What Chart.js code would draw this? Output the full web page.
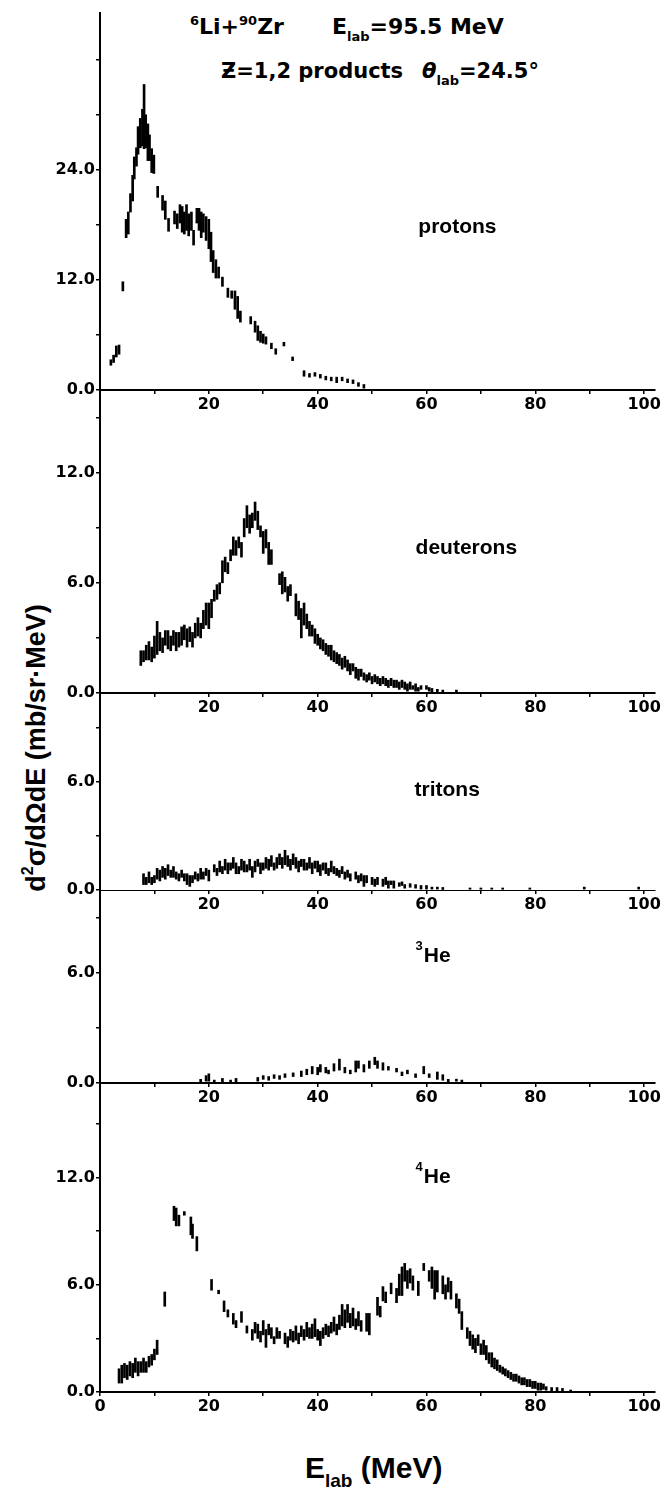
<!DOCTYPE html>
<html>
<head>
<meta charset="utf-8">
<script src="https://cdn.jsdelivr.net/npm/chart.js@4.4.1/dist/chart.umd.min.js"></script>
<style>
  body { margin: 0; background: #fff; }
  #page { position: relative; width: 671px; height: 1496px; overflow: hidden; background: #fff;
          font-family: 'Liberation Sans', Arial, sans-serif; font-weight: bold; color: #000; }
  #page canvas { position: absolute; left: 0; }
  .txt { position: absolute; white-space: nowrap; font-size: 21px; line-height: 1; }
  .txt sup { font-size: 13px; vertical-align: 9px; line-height: 0; }
  .txt sub { font-size: 14px; vertical-align: -7px; line-height: 0; }
  .title { font-family: 'DejaVu Sans', sans-serif; font-size: 22px; }
  .title sub { font-size: 13px; }
  #ytitle { left: 36px; top: 748px; font-size: 27px; transform: translate(-50%, -50%) rotate(-90deg); }
  #ytitle sup { font-size: 16px; vertical-align: 12px; }
  #xtitle { left: 305px; top: 1453px; font-size: 30px; }
  #xtitle sub { font-size: 19px; vertical-align: -9px; }
</style>
</head>
<body>
<div id="page">
  <div class="txt title" style="left:190px; top:16px"><sup>6</sup>Li+<sup>90</sup>Zr</div>
  <div class="txt title" style="left:332px; top:16px">E<sub>lab</sub>=95.5 MeV</div>
  <div class="txt title" style="left:221px; top:61px; font-size:21px">Ƶ=1,2 products</div>
  <div class="txt title" style="left:422px; top:61px; font-size:21px"><i>θ</i><sub>lab</sub>=24.5°</div>
  <div class="txt" id="ytitle">d<sup>2</sup>σ/dΩdE (mb/sr·MeV)</div>
  <div class="txt" id="xtitle">E<sub>lab</sub> (MeV)</div>
</div>
<script>
// spectra: E_lab (MeV), d2sigma/dOmega dE (mb/sr MeV), half error bar
const protonE   = [2.0, 2.5, 3.0, 3.5, 4.2, 4.8, 5.2, 5.6, 6.0, 6.3, 6.7, 7.0, 7.4, 7.8, 8.1, 8.4, 8.8, 9.1, 9.5, 9.9,
                   10.6, 11.5, 12.0, 12.6, 13.7, 14.2, 14.7, 15.1, 15.5, 15.9, 16.3, 16.8, 17.2, 17.8, 18.2, 18.6, 19.0, 19.5, 20.0, 20.4,
                   20.8, 21.3, 21.8, 22.5, 23.5, 24.2, 24.8, 25.3, 25.8, 27.7, 28.5, 29.0, 29.5, 30.0, 30.5, 31.5, 32.3, 33.8, 35.4, 37.5,
                   38.5, 39.5, 40.5, 41.5, 42.5, 43.5, 44.5, 45.5, 46.5, 47.5, 48.5];
const protonY   = [3.0, 3.4, 4.2, 4.4, 11.3, 17.6, 18.2, 20.4, 22.0, 24.2, 25.4, 27.2, 28.0, 28.6, 29.8, 28.2, 27.0, 26.4, 25.0, 24.6,
                   21.6, 20.4, 19.6, 18.0, 18.8, 18.4, 19.2, 18.6, 18.2, 18.8, 18.0, 18.4, 16.6, 19.0, 18.6, 18.0, 18.2, 17.6, 17.0, 15.6,
                   14.0, 13.2, 12.8, 11.8, 10.6, 10.4, 9.8, 9.0, 8.0, 7.6, 6.9, 6.2, 5.8, 5.6, 5.4, 4.8, 4.2, 5.0, 3.4, 1.8,
                   1.6, 1.7, 1.5, 1.3, 1.2, 1.1, 1.2, 1.0, 0.9, 0.6, 0.4];
const protonErr = [0.3, 0.4, 0.6, 0.5, 0.5, 1.0, 1.2, 1.0, 1.4, 1.2, 1.0, 1.5, 1.6, 2.0, 3.5, 1.8, 2.0, 1.4, 1.3, 1.0,
                   0.6, 0.8, 1.0, 0.7, 0.7, 0.8, 1.0, 1.4, 1.2, 1.4, 1.2, 1.0, 0.8, 0.8, 1.2, 1.4, 1.0, 1.3, 1.6, 1.6,
                   1.2, 1.0, 0.6, 0.5, 0.5, 0.4, 1.0, 1.2, 0.6, 0.4, 0.6, 0.8, 0.6, 0.5, 0.4, 0.3, 0.3, 0.2, 0.2, 0.3,
                   0.2, 0.2, 0.2, 0.2, 0.2, 0.3, 0.2, 0.2, 0.2, 0.2, 0.2];

const deuteronE   = [7.5, 8.0, 8.5, 9.0, 9.5, 10.0, 10.5, 11.0, 11.5, 12.0, 12.5, 13.0, 13.5, 14.0, 14.5, 15.0, 15.5, 16.0, 16.5, 17.0,
                     17.5, 18.0, 18.5, 19.0, 19.5, 20.0, 20.5, 21.0, 21.5, 22.0, 22.5, 23.0, 23.5, 24.0, 24.5, 25.0, 25.5, 26.0, 26.5, 27.0,
                     27.5, 28.0, 28.5, 29.0, 29.5, 30.0, 30.5, 31.0, 31.5, 33.0, 33.5, 34.0, 34.5, 35.0, 36.0, 36.5, 37.0, 37.5, 38.0, 38.5,
                     39.0, 39.5, 40.0, 40.5, 41.0, 41.5, 42.0, 42.5, 43.0, 43.5, 44.0, 44.5, 45.0, 45.5, 46.0, 46.5, 47.0, 47.5, 48.0, 48.5,
                     49.0, 49.5, 50.0, 50.5, 51.0, 51.5, 52.0, 52.5, 53.0, 53.5, 54.0, 54.5, 55.0, 55.5, 56.0, 56.5, 57.0, 57.5, 58.0, 58.5,
                     59.0, 60.0, 60.5, 61.0, 62.0, 63.0, 65.5];
const deuteronY   = [1.9, 2.0, 2.2, 2.3, 2.1, 2.5, 3.0, 2.8, 2.6, 3.0, 2.9, 2.7, 3.0, 2.8, 2.9, 3.1, 3.3, 3.0, 3.2, 2.9,
                     3.4, 3.6, 3.4, 4.0, 4.3, 4.2, 4.6, 5.3, 5.5, 5.7, 6.6, 7.0, 6.8, 7.5, 8.0, 7.9, 8.2, 7.8, 9.0, 9.6,
                     9.2, 9.4, 9.9, 9.4, 8.8, 8.2, 8.4, 7.6, 7.4, 6.2, 6.0, 5.9, 5.4, 5.6, 4.8, 4.5, 3.8, 4.3, 3.9, 3.5,
                     3.4, 3.1, 2.9, 2.7, 2.6, 2.4, 2.3, 2.2, 2.0, 1.9, 1.8, 1.6, 1.7, 1.5, 1.3, 1.4, 1.1, 1.0, 1.1, 0.9,
                     0.8, 0.9, 0.7, 0.8, 0.7, 0.6, 0.7, 0.6, 0.5, 0.6, 0.5, 0.5, 0.4, 0.5, 0.4, 0.3, 0.4, 0.3, 0.3, 0.2,
                     0.3, 0.3, 0.2, 0.15, 0.1, 0.1, 0.1];
const deuteronErr = [0.4, 0.3, 0.4, 0.5, 0.4, 0.6, 0.9, 0.5, 0.4, 0.4, 0.5, 0.4, 0.4, 0.5, 0.4, 0.5, 0.4, 0.5, 0.4, 0.4,
                     0.4, 0.5, 0.4, 0.5, 0.6, 0.7, 0.5, 0.3, 0.4, 0.3, 0.6, 0.4, 0.3, 0.3, 0.5, 0.4, 0.3, 0.4, 0.5, 0.6,
                     0.5, 0.4, 0.5, 0.5, 0.3, 0.6, 0.5, 0.6, 0.4, 0.3, 0.6, 0.4, 0.4, 0.3, 0.6, 0.5, 0.8, 0.6, 0.4, 0.4,
                     0.3, 0.4, 0.3, 0.3, 0.3, 0.3, 0.3, 0.4, 0.3, 0.3, 0.3, 0.3, 0.3, 0.3, 0.3, 0.2, 0.3, 0.3, 0.2, 0.2,
                     0.2, 0.2, 0.2, 0.2, 0.2, 0.2, 0.2, 0.2, 0.2, 0.2, 0.2, 0.2, 0.2, 0.2, 0.2, 0.2, 0.2, 0.1, 0.2, 0.1,
                     0.1, 0.1, 0.1, 0.1, 0.1, 0.05, 0.05];

const tritonE   = [8.0, 8.5, 9.0, 9.5, 10.0, 10.5, 11.0, 11.5, 12.0, 12.5, 13.0, 13.5, 14.0, 14.5, 15.0, 15.5, 16.0, 16.5, 17.0, 17.5,
                   18.0, 18.5, 19.0, 19.5, 20.0, 21.0, 21.5, 22.0, 22.5, 23.0, 23.5, 24.0, 24.5, 25.0, 25.5, 26.0, 26.5, 27.0, 27.5, 28.0,
                   28.5, 29.0, 29.5, 30.0, 30.5, 31.0, 31.5, 32.0, 32.5, 33.0, 33.5, 34.0, 34.5, 35.0, 35.5, 36.0, 36.5, 37.0, 37.5, 38.0,
                   38.5, 39.0, 39.5, 40.0, 40.5, 41.0, 41.5, 42.0, 42.5, 43.0, 43.5, 44.0, 44.5, 45.0, 45.5, 46.0, 47.0, 47.5, 48.0, 48.5,
                   49.0, 50.0, 50.5, 51.0, 52.0, 52.5, 53.0, 53.5, 54.0, 55.0, 55.5, 56.0, 57.0, 58.0, 59.0, 60.0, 61.0, 62.0, 63.0, 68.0,
                   70.0, 72.0, 74.0, 79.0, 89.0, 99.0];
const tritonY   = [0.6, 0.5, 0.7, 0.5, 0.6, 0.9, 0.8, 1.0, 0.9, 1.1, 0.9, 1.0, 0.8, 0.7, 0.9, 0.7, 0.6, 0.5, 0.6, 0.8,
                   0.7, 0.9, 0.8, 1.0, 0.8, 1.2, 1.0, 1.3, 1.1, 1.4, 1.2, 1.3, 1.5, 1.2, 1.1, 1.4, 1.3, 1.2, 1.4, 1.0,
                   1.3, 1.5, 1.2, 1.3, 1.5, 1.4, 1.6, 1.3, 1.5, 1.7, 1.5, 1.8, 1.6, 1.4, 1.7, 1.5, 1.3, 1.5, 1.4, 1.3,
                   1.5, 1.2, 1.4, 1.3, 1.1, 1.3, 1.2, 1.0, 1.3, 1.1, 1.0, 0.9, 1.1, 0.8, 0.9, 0.7, 0.8, 0.6, 0.7, 0.5,
                   0.6, 0.5, 0.4, 0.5, 0.4, 0.5, 0.3, 0.4, 0.3, 0.3, 0.35, 0.2, 0.25, 0.2, 0.15, 0.15, 0.1, 0.1, 0.08, 0.05,
                   0.05, 0.05, 0.05, 0.05, 0.1, 0.1];
const tritonErr = [0.3, 0.2, 0.3, 0.2, 0.2, 0.3, 0.3, 0.3, 0.3, 0.3, 0.2, 0.3, 0.2, 0.2, 0.2, 0.2, 0.3, 0.3, 0.2, 0.2,
                   0.2, 0.3, 0.2, 0.2, 0.3, 0.2, 0.2, 0.3, 0.2, 0.3, 0.3, 0.2, 0.3, 0.3, 0.2, 0.3, 0.3, 0.2, 0.3, 0.3,
                   0.3, 0.2, 0.3, 0.2, 0.3, 0.3, 0.3, 0.2, 0.3, 0.3, 0.3, 0.4, 0.3, 0.3, 0.3, 0.3, 0.3, 0.2, 0.3, 0.2,
                   0.3, 0.3, 0.2, 0.3, 0.3, 0.2, 0.3, 0.2, 0.3, 0.2, 0.2, 0.2, 0.2, 0.2, 0.2, 0.2, 0.2, 0.2, 0.2, 0.3,
                   0.2, 0.2, 0.2, 0.2, 0.2, 0.2, 0.2, 0.1, 0.2, 0.1, 0.1, 0.1, 0.1, 0.1, 0.1, 0.1, 0.05, 0.05, 0.05, 0.05,
                   0.05, 0.05, 0.05, 0.05, 0.05, 0.05];

const he3E   = [18.5, 19.5, 20.0, 21.0, 22.5, 24.0, 25.0, 29.0, 30.0, 31.0, 32.0, 33.0, 34.0, 35.5, 37.0, 38.0, 39.0, 40.0, 40.5, 41.5,
                42.0, 43.0, 44.0, 45.0, 46.0, 47.0, 47.5, 48.5, 49.5, 50.5, 51.0, 52.0, 53.0, 54.5, 55.5, 56.5, 58.0, 59.5, 60.5, 62.0,
                63.0, 64.0, 65.5, 66.5];
const he3Y   = [0.1, 0.25, 0.3, 0.1, 0.15, 0.1, 0.15, 0.2, 0.3, 0.25, 0.35, 0.3, 0.4, 0.45, 0.5, 0.6, 0.7, 0.65, 0.8, 0.7,
                0.6, 0.85, 1.0, 0.7, 0.6, 0.9, 1.0, 0.8, 1.0, 1.2, 1.0, 0.9, 0.8, 0.7, 0.5, 0.6, 0.4, 0.7, 0.4, 0.4,
                0.3, 0.1, 0.15, 0.1];
const he3Err = [0.1, 0.15, 0.2, 0.05, 0.1, 0.05, 0.1, 0.1, 0.1, 0.1, 0.1, 0.1, 0.1, 0.1, 0.15, 0.15, 0.2, 0.2, 0.2, 0.15,
                0.1, 0.2, 0.3, 0.15, 0.1, 0.3, 0.2, 0.2, 0.2, 0.2, 0.2, 0.2, 0.1, 0.1, 0.1, 0.1, 0.1, 0.2, 0.1, 0.2,
                0.15, 0.1, 0.05, 0.05];

const he4E   = [3.5, 4.0, 4.5, 5.0, 5.5, 6.0, 6.5, 7.0, 7.5, 8.0, 8.5, 9.0, 9.5, 10.0, 10.5, 11.9, 13.6, 14.0, 14.5, 15.5,
                16.7, 17.0, 17.8, 20.5, 21.8, 22.8, 23.5, 24.5, 25.0, 26.0, 27.0, 28.0, 28.5, 29.0, 29.5, 30.0, 30.5, 31.0, 31.5, 32.0,
                32.5, 33.0, 34.0, 34.5, 35.0, 35.5, 36.0, 36.5, 37.0, 37.5, 38.0, 38.5, 39.0, 39.5, 40.0, 40.5, 41.0, 41.5, 42.0, 42.5,
                43.0, 43.5, 44.0, 44.5, 45.0, 45.5, 46.0, 46.5, 47.0, 47.5, 48.0, 49.0, 49.5, 51.0, 51.5, 52.0, 52.5, 53.5, 54.5, 55.0,
                55.5, 56.0, 56.5, 57.0, 57.5, 58.5, 59.5, 60.5, 61.0, 61.5, 62.0, 63.0, 63.5, 64.0, 64.5, 65.5, 66.0, 66.5, 67.5, 68.0,
                68.5, 69.0, 69.5, 70.0, 70.5, 71.0, 71.5, 72.0, 72.5, 73.0, 73.5, 74.0, 74.5, 75.0, 75.5, 76.0, 76.5, 77.0, 77.5, 78.0,
                78.5, 79.0, 79.5, 80.0, 80.5, 81.0, 81.5, 82.0, 83.0, 84.0, 85.0, 86.5];
const he4Y   = [0.9, 1.0, 1.2, 1.1, 1.3, 1.2, 1.5, 1.3, 1.4, 1.5, 1.4, 1.7, 1.8, 2.1, 2.5, 5.2, 10.0, 9.8, 9.6, 10.0,
                9.3, 9.0, 8.3, 6.0, 5.6, 4.8, 4.4, 4.1, 3.8, 4.2, 3.5, 3.2, 3.6, 3.4, 3.1, 3.6, 3.0, 3.5, 3.3, 2.9,
                3.3, 3.2, 3.0, 2.8, 3.2, 3.1, 3.3, 3.0, 3.4, 3.2, 3.5, 3.3, 3.4, 3.6, 3.2, 3.0, 3.3, 3.5, 3.4, 3.6,
                3.8, 3.5, 3.9, 4.3, 4.1, 4.4, 4.0, 4.2, 3.8, 4.1, 3.7, 3.9, 3.8, 4.8, 4.5, 5.5, 5.3, 5.8, 5.4, 6.0,
                6.2, 6.7, 6.3, 6.5, 6.1, 5.8, 7.0, 6.5, 6.4, 6.0, 6.2, 6.0, 5.6, 6.0, 5.7, 5.1, 4.8, 4.0, 3.3, 3.0,
                2.8, 2.6, 2.9, 2.4, 2.5, 2.2, 1.9, 1.8, 1.6, 1.5, 1.3, 1.2, 1.1, 1.0, 0.9, 0.8, 0.8, 0.7, 0.6, 0.6,
                0.5, 0.5, 0.4, 0.4, 0.3, 0.3, 0.3, 0.2, 0.15, 0.15, 0.1, 0.05];
const he4Err = [0.4, 0.5, 0.4, 0.4, 0.4, 0.4, 0.4, 0.4, 0.3, 0.4, 0.3, 0.3, 0.3, 0.3, 0.4, 0.4, 0.4, 0.5, 0.3, 0.1,
                0.5, 0.4, 0.4, 0.3, 0.1, 0.3, 0.2, 0.3, 0.2, 0.3, 0.2, 0.3, 0.3, 0.4, 0.3, 0.4, 0.5, 0.3, 0.3, 0.2,
                0.3, 0.2, 0.3, 0.3, 0.3, 0.3, 0.4, 0.3, 0.3, 0.3, 0.4, 0.3, 0.4, 0.5, 0.3, 0.4, 0.3, 0.3, 0.3, 0.3,
                0.4, 0.3, 0.4, 0.6, 0.5, 0.5, 0.4, 0.5, 0.3, 0.4, 0.3, 0.5, 0.6, 0.5, 0.3, 0.4, 0.3, 0.3, 0.4, 0.6,
                0.8, 0.5, 0.5, 0.4, 0.4, 0.4, 0.2, 0.3, 0.6, 0.8, 0.6, 0.5, 0.4, 0.4, 0.5, 0.4, 0.4, 0.5, 0.3, 0.4,
                0.4, 0.4, 0.3, 0.3, 0.4, 0.4, 0.3, 0.4, 0.3, 0.3, 0.2, 0.2, 0.2, 0.2, 0.2, 0.2, 0.2, 0.2, 0.2, 0.2,
                0.2, 0.2, 0.2, 0.2, 0.2, 0.2, 0.15, 0.1, 0.1, 0.1, 0.1, 0.05];

// tick labels
const xTickLabels = [20, 40, 60, 80, 100];
const protonTickLabels = [0, 12, 24];
const sixTickLabels = [0, 6, 12];

const tickFont = { family: 'DejaVu Sans', weight: 'bold', size: 16 };

// panel layout (pixel rows of each plot area)
const panels = [
  { e: protonE, y: protonY, err: protonErr, yLabels: protonTickLabels, top: 12, bottom: 390, max: 41.2, step: 6,
    label: { text: 'protons', x: 58.5, y: 17.7 } },
  { e: deuteronE, y: deuteronY, err: deuteronErr, yLabels: sixTickLabels, top: 390, bottom: 693, max: 16.5, step: 3,
    label: { text: 'deuterons', x: 58, y: 7.9 } },
  { e: tritonE, y: tritonY, err: tritonErr, yLabels: sixTickLabels, top: 693, bottom: 890, max: 10.9, step: 3,
    label: { text: 'tritons', x: 57.8, y: 5.5 }, thinBase: true },
  { e: he3E, y: he3Y, err: he3Err, yLabels: sixTickLabels, top: 890, bottom: 1083, max: 10.5, step: 3,
    label: { sup: '3', text: 'He', x: 58, y: 6.9 } },
  { e: he4E, y: he4Y, err: he4Err, yLabels: sixTickLabels, top: 1083, bottom: 1392, max: 17.3, step: 3,
    label: { sup: '4', text: 'He', x: 58, y: 12.0 }, showZero: true }
];

// draws the particle name inside each panel
const panelLabel = {
  id: 'panelLabel',
  afterDraw(chart, args, opts) {
    const { ctx, scales } = chart;
    let x = scales.x.getPixelForValue(opts.x);
    const y = scales.y.getPixelForValue(opts.y);
    ctx.save();
    ctx.fillStyle = '#000';
    ctx.textBaseline = 'middle';
    if (opts.sup) {
      ctx.font = 'bold 13px "Liberation Sans"';
      ctx.fillText(opts.sup, x, y - 10);
      x += ctx.measureText(opts.sup).width + 1;
    }
    ctx.font = 'bold 21px "Liberation Sans"';
    ctx.fillText(opts.text, x, y);
    ctx.restore();
  }
};

const page = document.getElementById('page');

panels.forEach(p => {
  const canvas = document.createElement('canvas');
  canvas.width = 671;
  canvas.height = p.bottom - p.top + 34;
  canvas.style.top = p.top + 'px';
  page.appendChild(canvas);

  const points = p.e.map((e, k) => ({ x: e, y: [Math.max(0, p.y[k] - p.err[k]), p.y[k] + p.err[k]] }));

  new Chart(canvas, {
    type: 'bar',
    data: {
      datasets: [{
        data: points,
        backgroundColor: '#000',
        barThickness: 2,
        minBarLength: 2,
        grouped: false
      }]
    },
    options: {
      responsive: false,
      animation: false,
      devicePixelRatio: 1,
      layout: { padding: { left: 0, right: 16, top: 0, bottom: 0 } },
      plugins: {
        legend: { display: false },
        tooltip: { enabled: false },
        panelLabel: p.label
      },
      scales: {
        x: {
          type: 'linear',
          min: 0,
          max: 102,
          offset: false,
          border: p.thinBase ? { color: '#000', width: 1, dash: [14, 4] } : { color: '#000', width: 2 },
          grid: { drawOnChartArea: false, tickLength: 4, color: '#000', lineWidth: 1.5, offset: false },
          ticks: {
            stepSize: 10,
            includeBounds: false,
            autoSkip: false,
            maxRotation: 0,
            padding: 1,
            color: '#000',
            font: tickFont,
            callback: v => (xTickLabels.includes(v) || (p.showZero && v === 0)) ? String(v) : ''
          },
          afterFit: s => { s.height = 34; s.paddingLeft = 0; s.paddingRight = 0; }
        },
        y: {
          min: 0,
          max: p.max,
          border: { color: '#000', width: 2 },
          grid: { drawOnChartArea: false, tickLength: 4, color: '#000', lineWidth: 1.5 },
          ticks: {
            stepSize: p.step,
            includeBounds: false,
            autoSkip: false,
            padding: 1,
            color: '#000',
            font: tickFont,
            callback: v => p.yLabels.includes(v) ? v.toFixed(1) : ''
          },
          afterFit: s => { s.width = 100; s.paddingTop = 0; s.paddingBottom = 0; }
        }
      }
    },
    plugins: [panelLabel]
  });
});
</script>
</body>
</html>
